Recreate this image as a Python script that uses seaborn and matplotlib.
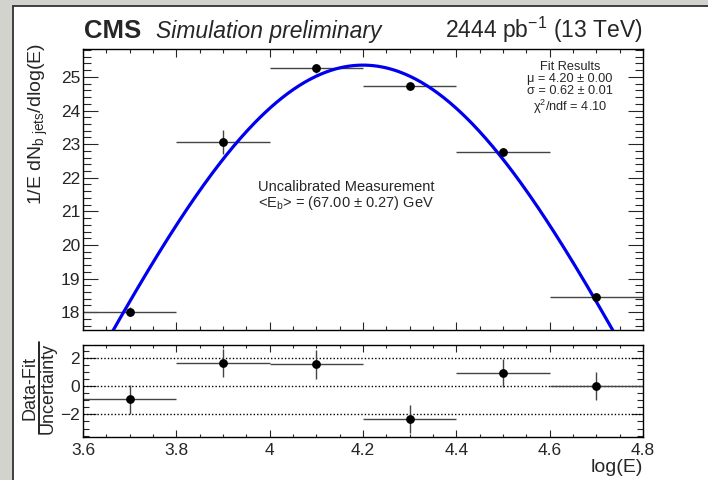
import numpy as np
import pandas as pd
import matplotlib
matplotlib.use("Agg")
import matplotlib.pyplot as plt
from matplotlib.ticker import MultipleLocator
from matplotlib.patches import Rectangle
from matplotlib.lines import Line2D
import seaborn as sns

# ---------------- data ----------------
bin_centers = [3.7, 3.9, 4.1, 4.3, 4.5, 4.7]
bin_halfwidth = [0.1, 0.1, 0.1, 0.1, 0.1, 0.1]
yield_values = [18.02, 23.07, 25.25, 24.72, 22.77, 18.44]
yield_errors = [0.12, 0.35, 0.12, 0.10, 0.10, 0.10]
pull_values = [-0.94, 1.64, 1.53, -2.32, 0.94, 0.02]
pull_errors = [1.0, 1.0, 1.0, 1.0, 1.0, 1.0]
fit_mu = 4.20
fit_sigma = 0.62
fit_amplitude = 25.35
x_tick_values = [3.6, 3.8, 4.0, 4.2, 4.4, 4.6, 4.8]
x_tick_labels = ["3.6", "3.8", "4", "4.2", "4.4", "4.6", "4.8"]
main_y_ticks = [18, 19, 20, 21, 22, 23, 24, 25]
ratio_y_ticks = [-2, 0, 2]
ratio_y_labels = ["\u22122", "0", "2"]

# ---------------- style ----------------
sns.set_theme(style="ticks")
plt.rcParams["font.family"] = ["Liberation Sans", "DejaVu Sans"]
plt.rcParams["mathtext.fontset"] = "custom"
plt.rcParams["mathtext.rm"] = "Liberation Sans"
plt.rcParams["mathtext.it"] = "Liberation Sans:italic"
plt.rcParams["mathtext.bf"] = "Liberation Sans:bold"

W, H = 708, 480
fig = plt.figure(figsize=(W / 100, H / 100), dpi=100)
fig.patch.set_facecolor("white")

def fx(px):
    return px / W

def fy(py):
    return 1 - py / H

# window frame (gray L-shape)
gray = "#d3d3cd"
fig.patches.append(Rectangle((0, 0), fx(12), 1, transform=fig.transFigure, color=gray, zorder=-10))
fig.patches.append(Rectangle((0, fy(5)), 1, 5 / H, transform=fig.transFigure, color=gray, zorder=-10))
fig.lines.append(Line2D([fx(12.8), fx(12.8)], [0, fy(5.5)], transform=fig.transFigure, color="#333333", lw=1.3))
fig.lines.append(Line2D([fx(12.8), 1], [fy(5.5), fy(5.5)], transform=fig.transFigure, color="#333333", lw=1.3))

ax = fig.add_axes([fx(83), fy(330), fx(643) - fx(83), fy(49) - fy(330)])
axr = fig.add_axes([fx(83), fy(437), fx(643) - fx(83), fy(345) - fy(437)], sharex=ax)

df = pd.DataFrame({"x": bin_centers, "y": yield_values, "yerr": yield_errors,
                   "xerr": bin_halfwidth, "pull": pull_values, "perr": pull_errors})

# fit curve from the fit parameters
xc = np.linspace(3.6, 4.8, 400)
curve = pd.DataFrame({"x": xc, "y": fit_amplitude * np.exp(-(xc - fit_mu) ** 2 / (2 * fit_sigma ** 2))})

# ---------------- main panel ----------------
ax.errorbar(df["x"], df["y"], xerr=df["xerr"], yerr=df["yerr"], fmt="none",
            ecolor="#444444", elinewidth=1.0, capsize=0, zorder=2)
sns.lineplot(data=curve, x="x", y="y", ax=ax, color="#0000ee", lw=2.3, zorder=3)
sns.scatterplot(data=df, x="x", y="y", ax=ax, color="black", s=40, edgecolor="black",
                linewidth=0, zorder=4)
ax.set_xlim(3.6, 4.8)
ax.set_ylim(17.47, 25.83)
ax.set_xlabel("")
ax.set_ylabel("")
ax.set_yticks(main_y_ticks)
ax.yaxis.set_minor_locator(MultipleLocator(0.2))
ax.xaxis.set_minor_locator(MultipleLocator(0.05))
ax.tick_params(axis="x", which="both", labelbottom=False, direction="in", top=True, bottom=True)
ax.tick_params(axis="x", which="major", length=5.5, width=0.8)
ax.tick_params(axis="x", which="minor", length=2.6, width=0.8)
ax.tick_params(axis="y", which="both", direction="in", left=True, right=True, labelsize=12.5, pad=2)
ax.tick_params(axis="y", which="major", length=11, width=0.8)
ax.tick_params(axis="y", which="minor", length=5.8, width=0.8)
for s in ax.spines.values():
    s.set_linewidth(1.0)
    s.set_color("black")

fs_fit = 9.2
ax.text(fx(570), fy(67), "Fit Results", transform=fig.transFigure, ha="center", va="center", fontsize=fs_fit)
ax.text(fx(570), fy(79), "\u03bc = 4.20 \u00b1 0.00", transform=fig.transFigure, ha="center", va="center", fontsize=fs_fit)
ax.text(fx(570), fy(91), "\u03c3 = 0.62 \u00b1 0.01", transform=fig.transFigure, ha="center", va="center", fontsize=fs_fit)
ax.text(fx(570), fy(107), "\u03c7$^{2}$/ndf = 4.10", transform=fig.transFigure, ha="center", va="center", fontsize=fs_fit)

ax.text(fx(258), fy(187), "Uncalibrated Measurement", transform=fig.transFigure, ha="left", va="center", fontsize=10.5)
ax.text(fx(258), fy(203), r"<E$_{\mathrm{b}}$> = (67.00 $\pm$ 0.27) GeV", transform=fig.transFigure,
        ha="left", va="center", fontsize=10.5)

# ---------------- ratio panel ----------------
for yv in ratio_y_ticks:
    axr.axhline(yv, color="black", lw=1.0, ls=(0, (1, 1.5)), zorder=1)
axr.errorbar(df["x"], df["pull"], xerr=df["xerr"], yerr=df["perr"], fmt="none",
             ecolor="#444444", elinewidth=1.0, capsize=0, zorder=2)
sns.scatterplot(data=df, x="x", y="pull", ax=axr, color="black", s=40, edgecolor="black",
                linewidth=0, zorder=4)
axr.set_ylim(-3.6, 2.9)
axr.set_xlim(3.6, 4.8)
axr.set_xlabel("")
axr.set_ylabel("")
axr.set_yticks(ratio_y_ticks)
axr.set_yticklabels(ratio_y_labels)
axr.yaxis.set_minor_locator(MultipleLocator(0.5))
axr.set_xticks(x_tick_values)
axr.set_xticklabels(x_tick_labels)
axr.xaxis.set_minor_locator(MultipleLocator(0.05))
axr.tick_params(axis="x", which="both", direction="in", top=True, bottom=True, labelsize=12.5, pad=4)
axr.tick_params(axis="x", which="major", length=5.0, width=0.8)
axr.tick_params(axis="x", which="minor", length=2.4, width=0.8)
axr.tick_params(axis="y", which="both", direction="in", left=True, right=True, labelsize=12.5, pad=2)
axr.tick_params(axis="y", which="major", length=9, width=0.8)
axr.tick_params(axis="y", which="minor", length=4.5, width=0.8)
for s in axr.spines.values():
    s.set_linewidth(1.0)
    s.set_color("black")

# ---------------- labels ----------------
fig.text(fx(643), fy(467), "log(E)", ha="right", va="center", fontsize=14)
fig.text(fx(38), fy(124), r"1/E dN$_{\mathrm{b\ jets}}$/dlog(E)", rotation=90, ha="center", va="center", fontsize=14)
fig.text(fx(30), fy(388), "Data-Fit", rotation=90, ha="center", va="center", fontsize=13)
fig.lines.append(Line2D([fx(38.5), fx(38.5)], [fy(434), fy(342)], transform=fig.transFigure, color="black", lw=1.2))
fig.text(fx(48.5), fy(388), "Uncertainty", rotation=90, ha="center", va="center", fontsize=13)

fig.text(fx(84), fy(38), "CMS", ha="left", va="baseline", fontsize=18.5, fontweight="bold")
fig.text(fx(156), fy(38), "Simulation preliminary", ha="left", va="baseline", fontsize=16.5, fontstyle="italic")
fig.text(fx(643), fy(38), "2444 pb$^{\\mathrm{-1}}$ (13 TeV)", ha="right", va="baseline", fontsize=16.5)

fig.savefig("out.png", dpi=100, facecolor=fig.get_facecolor())
